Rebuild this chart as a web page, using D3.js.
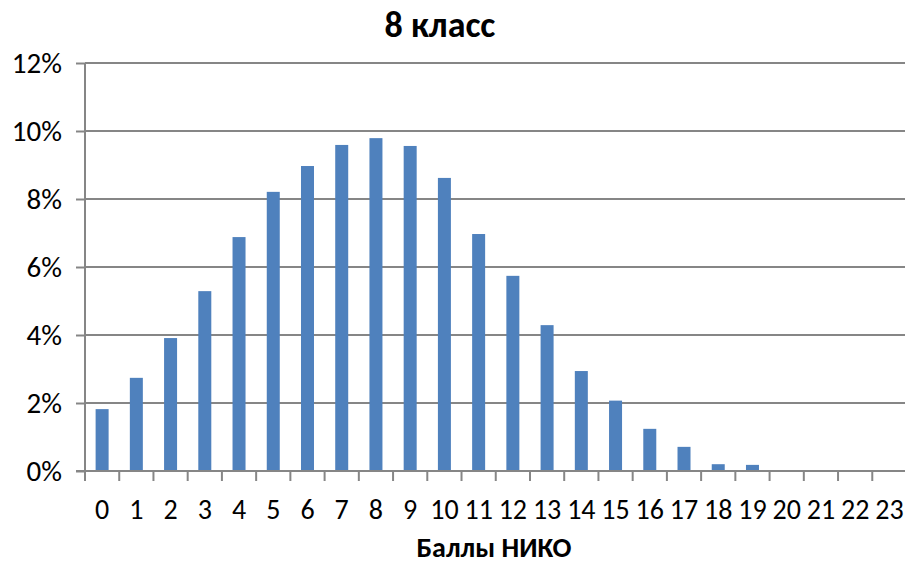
<!DOCTYPE html>
<html>
<head>
<meta charset="utf-8">
<script src="https://cdn.jsdelivr.net/npm/d3@7"></script>
<style>
  body { margin: 0; background: #fff; }
  text { font-family: Carlito, Lato, "Open Sans", sans-serif; fill: #000; }
</style>
</head>
<body>
<div id="chart"></div>
<script>
// scores 0..23 and share of students (%)
var scores = d3.range(0, 24).map(String);
var shares = [1.82, 2.74, 3.91, 5.29, 6.88, 8.21, 8.97, 9.59, 9.79, 9.56, 8.62, 6.97,
              5.74, 4.29, 2.94, 2.07, 1.24, 0.71, 0.2, 0.18, 0, 0, 0, 0];
var yTicks = [0, 2, 4, 6, 8, 10, 12];

(function () {
    var W = 905, H = 564;
    var margin = { top: 63, right: -1.5, bottom: 93, left: 85 },
        width = W - margin.left - margin.right,
        height = H - margin.top - margin.bottom;

    var svg = d3.select('#chart').append('svg')
        .attr('width', W).attr('height', H);

    var g = svg.append('g')
        .attr('transform', 'translate(' + margin.left + ',' + margin.top + ')');

    var x = d3.scaleBand().domain(scores).range([0, width]);
    var y = d3.scaleLinear().domain([0, 12]).range([height, 0]);

    // gridlines
    g.selectAll('.grid')
        .data(yTicks.slice(1))
        .enter().append('line')
        .attr('x1', 0).attr('x2', width)
        .attr('y1', function (d) { return y(d); })
        .attr('y2', function (d) { return y(d); })
        .attr('stroke', '#868686').attr('stroke-width', 2);

    // bars
    var bw = 13;
    g.selectAll('rect')
        .data(shares)
        .enter().append('rect')
        .attr('x', function (d, i) { return x(scores[i]) + x.bandwidth() / 2 - bw / 2; })
        .attr('y', function (d) { return y(d); })
        .attr('width', bw)
        .attr('height', function (d) { return height - y(d); })
        .attr('fill', '#4f81bd');

    // y axis
    var yAxis = g.append('g')
        .call(d3.axisLeft(y).tickValues(yTicks).tickSize(9).tickPadding(14)
              .tickFormat(function (d) { return d + '%'; }));
    yAxis.select('.domain').attr('stroke', '#868686').attr('stroke-width', 2)
        .attr('d', 'M0,0V' + height);
    yAxis.selectAll('.tick line').attr('stroke', '#868686').attr('stroke-width', 2);
    yAxis.selectAll('text').style('font-size', '29px');

    // x axis: ticks at category boundaries
    var xAxis = g.append('g').attr('transform', 'translate(0,' + height + ')');
    xAxis.append('line')
        .attr('x1', -9).attr('x2', width)
        .attr('stroke', '#868686').attr('stroke-width', 2);
    xAxis.selectAll('.bt')
        .data(scores)
        .enter().append('line')
        .attr('x1', function (d) { return x(d); })
        .attr('x2', function (d) { return x(d); })
        .attr('y1', 0).attr('y2', 10)
        .attr('stroke', '#868686').attr('stroke-width', 2);
    xAxis.selectAll('.lbl')
        .data(scores)
        .enter().append('text')
        .attr('x', function (d) { return x(d) + x.bandwidth() / 2; })
        .attr('y', 48)
        .attr('text-anchor', 'middle')
        .style('font-size', '28px')
        .text(function (d) { return d; });

    // titles
    svg.append('text')
        .attr('x', 440).attr('y', 37)
        .attr('text-anchor', 'middle')
        .style('font-size', '36px').style('font-weight', 'bold')
        .text('8 класс');

    svg.append('text')
        .attr('x', 494).attr('y', 557)
        .attr('text-anchor', 'middle')
        .style('font-size', '28px').style('font-weight', 'bold')
        .text('Баллы НИКО');
})();
</script>
</body>
</html>
